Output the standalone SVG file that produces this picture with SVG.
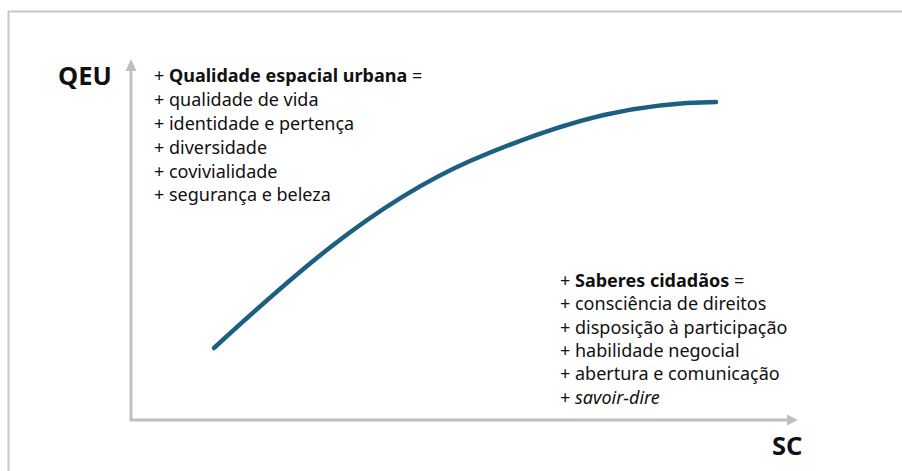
<svg xmlns="http://www.w3.org/2000/svg" width="902" height="471" viewBox="0 0 902 471">
<style>
.t{font-family:"Noto Sans","Liberation Sans",sans-serif;font-size:18px;fill:#111}
.b{font-weight:bold}
.ax{font-family:"Noto Sans","Liberation Sans",sans-serif;font-size:25.5px;font-weight:bold;fill:#111}
.axis{fill:none;stroke:#bfbfbf;stroke-width:3}
</style>
<rect id="frame" x="8.5" y="11.5" width="900" height="470" fill="#fff" stroke="#c8c8c8" stroke-width="2"/>
<g id="connectors">
<path class="axis" d="M131,68 L131,420 L789,420"/>
<polygon points="131,59 125.5,71 136.5,71" fill="#bfbfbf"/>
<polygon points="798,420 787,414.5 787,425.5" fill="#bfbfbf"/>
<path id="curve" d="M214,348 C285,283 370,205 470,161 C575,116 640,103 716,102" fill="none" stroke="#1d5f80" stroke-width="4.5" stroke-linecap="round"/>
</g>
<g id="qeu"><text class="ax" x="58" y="85">QEU</text></g>
<g id="sc"><text class="ax" x="772" y="455">SC</text></g>
<g id="qualidade">
<text class="t" x="154" y="82">+ <tspan class="b">Qualidade espacial urbana</tspan> =</text>
<text class="t" x="154" y="106">+ qualidade de vida</text>
<text class="t" x="154" y="129.5">+ identidade e pertença</text>
<text class="t" x="154" y="153.5">+ diversidade</text>
<text class="t" x="154" y="177.5">+ covivialidade</text>
<text class="t" x="154" y="201">+ segurança e beleza</text>
</g>
<g id="saberes">
<text class="t" x="560" y="287">+ <tspan class="b">Saberes cidadãos</tspan> =</text>
<text class="t" x="560" y="310">+ consciência de direitos</text>
<text class="t" x="560" y="333.5">+ disposição à participação</text>
<text class="t" x="560" y="357">+ habilidade negocial</text>
<text class="t" x="560" y="380">+ abertura e comunicação</text>
<text class="t" x="560" y="403.5">+ <tspan font-style="italic">savoir-dire</tspan></text>
</g>
</svg>
